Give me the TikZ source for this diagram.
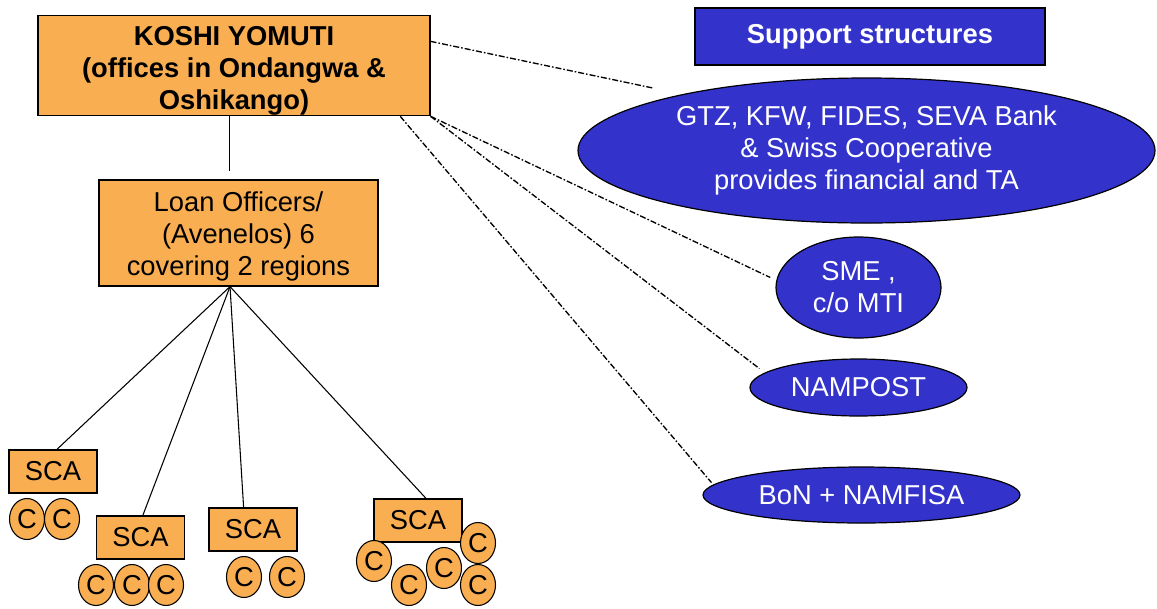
\documentclass[tikz,border=0pt]{standalone}
\usepackage{fontspec}
\setmainfont{Liberation Sans}
\usetikzlibrary{shapes.geometric}
\definecolor{koshiorange}{RGB}{249,174,82}
\definecolor{supportblue}{RGB}{51,51,204}
\begin{document}
\begin{tikzpicture}[x=0.75pt,y=-0.75pt,
    orgbox/.style={draw=black,fill=koshiorange,line width=0.9pt,align=center,inner sep=0pt,font=\fontsize{20.5}{24}\selectfont},
    scabox/.style={draw=black,fill=koshiorange,line width=0.9pt,minimum width=66pt,minimum height=32.25pt,inner sep=0pt,font=\fontsize{20.5}{24}\selectfont},
    cnode/.style={ellipse,draw=black,fill=koshiorange,line width=0.8pt,minimum width=26.25pt,minimum height=30.75pt,inner sep=0pt,font=\fontsize{20.5}{24}\selectfont},
    supnode/.style={ellipse,draw=black,fill=supportblue,text=white,line width=0.9pt,inner sep=0pt,align=center,font=\fontsize{20.5}{24}\selectfont},
    dashdot/.style={line width=1pt,dash pattern=on 4.5pt off 1.5pt on 1.2pt off 1.5pt},
    link/.style={line width=0.8pt}]
        \useasboundingbox (0,0) rectangle (1157,608);

        %##################################################### head office
        \node[orgbox,minimum width=294pt,minimum height=72.75pt,font=\bfseries\fontsize{20.5}{24}\selectfont] (koshi) at (234,65.5) {\rule{0pt}{23pt}KOSHI YOMUTI\\(offices in Ondangwa \&\\Oshikango)};
        \node[orgbox,minimum width=209.25pt,minimum height=79.5pt] (loan) at (238.5,233) {\rule{0pt}{20pt}Loan Officers/\\(Avenelos) 6\\covering 2 regions};

        %##################################################### support side
        \node[draw=black,fill=supportblue,text=white,line width=0.9pt,minimum width=262.5pt,minimum height=42.75pt,inner sep=0pt,font=\bfseries\fontsize{20.5}{24}\selectfont] (support) at (870,36.5) {Support structures};
        \node[supnode,minimum width=432.75pt,minimum height=108.75pt] (gtz) at (866.5,150.5) {GTZ, KFW, FIDES, SEVA Bank\\\& Swiss Cooperative\\provides financial and TA};
        \node[supnode,minimum width=123.75pt,minimum height=75.75pt] (sme) at (858.5,287.5) {SME ,\\c/o MTI};
        \node[supnode,minimum width=162.75pt,minimum height=42.75pt] (nampost) at (858.5,387.5) {NAMPOST};
        \node[supnode,minimum width=237.75pt,minimum height=42pt] (bon) at (861.5,495) {BoN + NAMFISA};

        %##################################################### savings groups
        \node[scabox] (sca1) at (53,471.5) {SCA};
        \node[scabox] (sca2) at (140.5,537.5) {SCA};
        \node[scabox] (sca3) at (253,529.5) {SCA};
        \node[scabox] (sca4) at (418,520.5) {SCA};
        \foreach \n/\x/\y in {a1/27/519,a2/62/519,b1/96/585,b2/132/585,b3/166/585,c1/244/577,c2/287/577,d1/374/561,d2/409/585,d3/444/568,d4/478/543,d5/478/585}{
        \node[cnode] (c\n) at (\x,\y) {C};
        }

        %##################################################### connectors
        \draw[link,shorten >=6pt] (koshi.-95) -- (koshi.-95 |- loan.north);
        \coordinate (hub) at (loan.-99);
        \draw[link] (hub) -- (sca1.80);
        \draw[link] (hub) -- (sca2.84);
        \draw[link] (hub) -- (sca3.113);
        \draw[link] (hub) -- (sca4.70);

        \draw[dashdot,shorten >=22pt] (koshi.7) -- (gtz.163);
        \draw[dashdot,shorten >=5pt] (koshi.south east) -- (sme.175);
        \draw[dashdot,shorten >=5pt] (koshi.south east) -- (nampost.171);
        \draw[dashdot,shorten >=2pt] (koshi.-17) -- (bon.176);
\end{tikzpicture}
\end{document}
